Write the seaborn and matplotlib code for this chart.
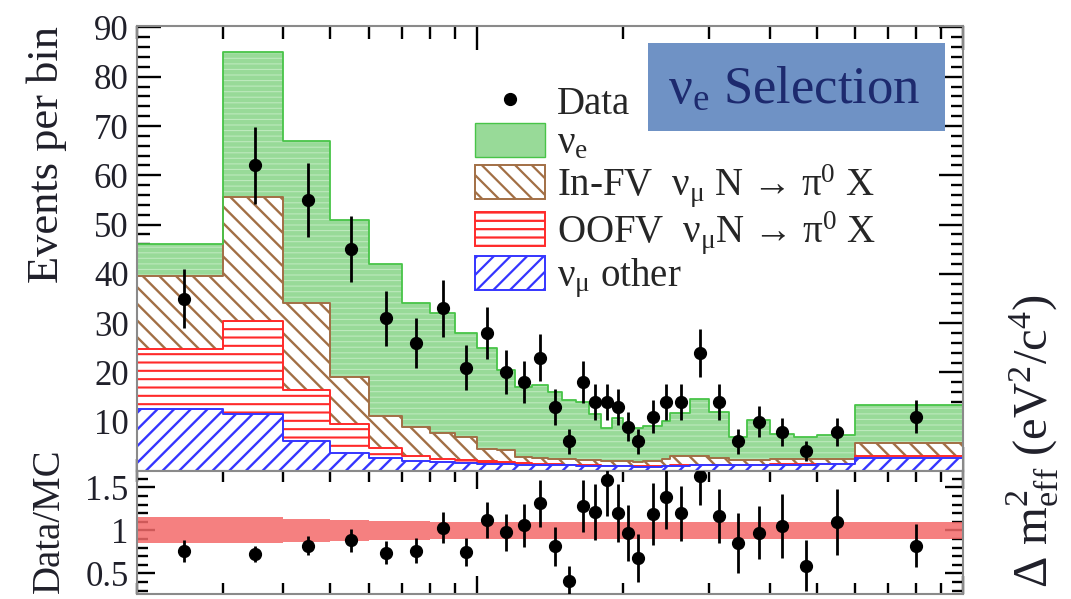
import numpy as np
import matplotlib
matplotlib.use("Agg")
import matplotlib.pyplot as plt
from matplotlib.patches import Patch, Rectangle
from matplotlib.lines import Line2D
from matplotlib.ticker import MultipleLocator, LogLocator, NullFormatter, FuncFormatter
import seaborn as sns

# ---- binning (reconstructed quantity, log axis) ----
bin_edges = [0.2, 0.3, 0.4, 0.5, 0.6, 0.7, 0.8, 0.9, 1.0, 1.1, 1.2, 1.3, 1.4, 1.5,
             1.6, 1.7, 1.8, 1.9, 2.0, 2.1, 2.2, 2.4, 2.5, 2.75, 3.0, 3.3, 3.6,
             4.0, 4.5, 5.0, 6.0, 10.0]

# ---- observed events per bin ----
data_counts = [35, 62, 55, 45, 31, 26, 33, 21, 28, 20, 18, 23, 13, 6, 18, 14,
               14, 13, 9, 6, 11, 14, 14, 24, 14, 6, 10, 8, 4, 8, 11]

# ---- MC components per bin ----
numu_other = [12.6, 11.6, 6.1, 3.6, 2.6, 2.0, 1.8, 1.6, 1.5, 1.4, 1.3, 1.3, 1.2,
              1.2, 1.1, 1.1, 1.0, 1.0, 1.0, 0.9, 0.9, 1.0, 1.1, 1.2, 1.2, 1.2,
              1.2, 1.3, 1.3, 1.4, 2.7]
oofv_pi0 = [12.2, 18.9, 10.4, 5.9, 2.1, 1.0, 0.6, 0.6, 0.5, 0.4, 0.3, 0.2, 0.2,
            0.1, 0.2, 0.1, 0.1, 0.1, 0.1, 0.1, 0.1, 0.1, 0.1, 0.1, 0.1, 0.1,
            0.1, 0.1, 0.1, 0.1, 0.3]
infv_pi0 = [14.8, 25.0, 17.5, 9.5, 6.5, 6.0, 5.3, 4.8, 2.4, 2.4, 1.2, 1.1, 1.1,
            1.1, 1.0, 1.0, 1.0, 0.9, 0.9, 0.9, 1.0, 1.3, 1.8, 1.7, 1.3, 1.0,
            1.0, 1.0, 1.0, 0.9, 2.6]
nue_signal = [6.4, 29.5, 33.0, 32.0, 30.8, 25.0, 24.3, 21.0, 20.6, 16.3, 14.2,
              14.9, 13.5, 12.1, 11.7, 9.3, 6.7, 8.8, 7.3, 6.9, 7.2, 7.7, 8.7,
              11.7, 9.4, 4.7, 8.0, 5.2, 4.4, 4.9, 7.8]

# fractional MC uncertainty shown in the ratio band
mc_frac_err = [0.15, 0.15, 0.13, 0.12, 0.11, 0.11, 0.10, 0.10, 0.10, 0.10, 0.10,
               0.10, 0.10, 0.10, 0.10, 0.10, 0.10, 0.10, 0.10, 0.10, 0.10, 0.10,
               0.10, 0.10, 0.10, 0.10, 0.10, 0.10, 0.10, 0.10, 0.10]

legend_labels = ["Data", "ν$_{e}$", "In-FV  ν$_{μ}$ N → π$^{0}$ X",
                 "OOFV  ν$_{μ}$N → π$^{0}$ X", "ν$_{μ}$ other"]

GREEN_FILL, GREEN_HATCH, GREEN_LINE = "#98da98", "#bde9bd", "#48c448"
BROWN, RED, BLUE = "#a26f45", "#ff2a2a", "#3535ff"

sns.set_theme(style="ticks")
plt.rcParams["font.family"] = ["Liberation Serif", "DejaVu Serif"]
plt.rcParams["mathtext.default"] = "regular"
plt.rcParams["hatch.linewidth"] = 1.6

W, H = 1071, 599
fig = plt.figure(figsize=(W / 100, H / 100), dpi=100)
L, R, T, MID, B = 137, 963, 26, 471, 594
ax = fig.add_axes([L / W, 1 - MID / H, (R - L) / W, (MID - T) / H])
rax = fig.add_axes([L / W, 1 - B / H, (R - L) / W, (B - MID) / H])
for a in (ax, rax):
    a.set_xscale("log")

edges = np.array(bin_edges)
centers = 0.5 * (edges[:-1] + edges[1:])
log_bins = [float(v) for v in np.log10(edges)]
other = np.array(numu_other)
oofv = np.array(oofv_pi0)
infv = np.array(infv_pi0)
nue = np.array(nue_signal)
data = np.array(data_counts, dtype=float)

# stacked tops, drawn from the total down to the lowest component
top_other = other
top_oofv = top_other + oofv
top_infv = top_oofv + infv
top_total = top_infv + nue


def layer(heights, face, edge, hatch, lw, hatch_lw):
    with plt.rc_context({"hatch.linewidth": hatch_lw}):
        sns.histplot(x=centers, weights=heights, bins=log_bins, log_scale=True,
                     element="step", fill=True, ax=ax, facecolor=face,
                     edgecolor=edge, hatch=hatch, linewidth=lw, alpha=1)


layer(top_total, GREEN_FILL, GREEN_HATCH, "---", 0, 0.8)
sns.histplot(x=centers, weights=top_total, bins=log_bins, log_scale=True,
             element="step", fill=False, ax=ax, color=GREEN_LINE, linewidth=1.3)
layer(top_infv, "white", BROWN, "\\\\", 1.4, 1.7)
layer(top_oofv, "white", RED, "--", 1.4, 1.5)
layer(top_other, "white", BLUE, "//", 1.4, 1.7)

ax.errorbar(centers, data, yerr=np.sqrt(data), fmt="o", color="black", ms=8.5,
            elinewidth=2.0, capsize=0, zorder=6)

# ---- ratio panel ----
total = top_total
band = np.array(mc_frac_err)
rax.stairs(1 + band, edges, baseline=1 - band, fill=True, color="#f46a6a",
           alpha=0.85, lw=0)
rax.errorbar(centers, data / total, yerr=np.sqrt(data) / total, fmt="o",
             color="black", ms=8.5, elinewidth=2.0, capsize=0, zorder=6)

# ---- axes styling ----
for a in (ax, rax):
    a.set_xlim(0.2, 10)
    a.xaxis.set_major_locator(LogLocator(base=10, subs=[1.0]))
    a.xaxis.set_minor_locator(LogLocator(base=10, subs=np.arange(2, 10)))
    a.xaxis.set_major_formatter(NullFormatter())
    a.xaxis.set_minor_formatter(NullFormatter())
    a.set_xlabel("")
    a.set_ylabel("")
    for s in a.spines.values():
        s.set_color("#8a8a8a")
        s.set_linewidth(1.5)
    a.tick_params(which="both", direction="in", top=True, right=True,
                  color="black", width=1.7, labelsize=25, labelcolor="#20202a",
                  pad=6)

ax.set_ylim(0, 90.3)
ax.yaxis.set_major_locator(MultipleLocator(10))
ax.yaxis.set_minor_locator(MultipleLocator(2))
ax.yaxis.set_major_formatter(FuncFormatter(lambda v, p: "" if v <= 0 else f"{v:g}"))
ax.tick_params(which="major", length=17)
ax.tick_params(which="minor", length=9)

rax.set_ylim(0.26, 1.69)
rax.yaxis.set_major_locator(MultipleLocator(0.5))
rax.yaxis.set_minor_locator(MultipleLocator(0.1))
rax.yaxis.set_major_formatter(FuncFormatter(lambda v, p: f"{v:g}"))
rax.tick_params(which="major", length=13)
rax.tick_params(which="minor", length=8)

# ---- legend ----
handles = [
    Line2D([], [], marker="o", ls="none", color="black", ms=8.5),
    Patch(facecolor=GREEN_FILL, edgecolor=GREEN_LINE, lw=1.0),
    Patch(facecolor="white", edgecolor=BROWN, hatch="\\\\", lw=1.4),
    Patch(facecolor="white", edgecolor=RED, hatch="--", lw=1.4),
    Patch(facecolor="white", edgecolor=BLUE, hatch="//", lw=1.4),
]
ax.legend(handles, legend_labels, loc="upper left",
          bbox_to_anchor=(475 / W, 1 - 84 / H), bbox_transform=fig.transFigure,
          frameon=False, fontsize=28, handlelength=1.8, handleheight=0.95,
          handletextpad=0.3, labelspacing=0.0, borderpad=0, borderaxespad=0)

# ---- selection tag ----
fig.add_artist(Rectangle((648 / W, 1 - 131 / H), (945 - 648) / W, (131 - 43) / H,
                         transform=fig.transFigure, facecolor="#6f92c5",
                         edgecolor="none", zorder=2))
fig.text(794 / W, 1 - 90 / H, "ν$_{e}$ Selection", ha="center", va="center",
         fontsize=38, color="#1d2a6e", zorder=3)

# ---- axis titles ----
fig.text(47 / W, 1 - 26 / H, "Events per bin", rotation=90, ha="center",
         va="top", fontsize=32, color="#20202a")
fig.text(49 / W, 1 - 448 / H, "Data/MC", rotation=90, ha="center", va="top",
         fontsize=28, color="#20202a")
fig.text(1033 / W, 1 - 294 / H, "Δ m$^{2}_{eff}$ (eV$^{2}$/c$^{4}$)",
         rotation=90, ha="center", va="top", fontsize=35, color="#20202a")

fig.savefig("out.png", dpi=100)
